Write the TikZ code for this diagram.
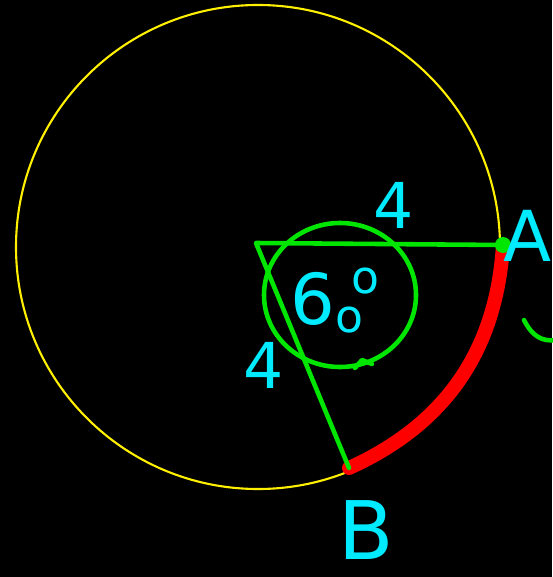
\documentclass[tikz,border=0pt]{standalone}
\usepackage{fontspec}
\setmainfont{DejaVu Sans}
\usepackage{xcolor}
\usepackage{tikz}
\usetikzlibrary{arrows.meta}

\definecolor{sunyellow}{RGB}{255,240,0}
\definecolor{markgreen}{RGB}{0,230,0}
\definecolor{textcyan}{RGB}{0,235,255}

\begin{document}
\begin{tikzpicture}
	[
	x=0.02cm, y=-0.02cm,
	rim/.style={
		draw=sunyellow,
		line width=1.2pt
	},
	greenline/.style={
		draw=markgreen,
		line width=2.6pt,
		line cap=round,
		line join=round
	},
	redarc/.style={
		draw=red,
		line width=8pt,
		line cap=round
	},
	lbl/.style={
		text=textcyan,
		inner sep=0pt,
		font=\fontsize{36}{36}\selectfont
	}
	]
	
	% Background
	\fill[black] (0,0) rectangle (552,577);
	\useasboundingbox (0,0) rectangle (552,577);
	
	% Points
	\coordinate (O) at (256,243);
	\coordinate (A) at (503,245);
	\coordinate (B) at (349,468);
	
	% Big circle
	\draw[rim] (258,247) circle[radius=242];
	
	% Red arc AB
	\draw[redarc] (A) to[bend left=31] (B);
	
	% Radii
	\draw[greenline] (B) -- (O) -- (A);
	\fill[markgreen] (A) circle[radius=8];
	
	% Angle mark
	\draw[greenline] (340,295) ellipse[x radius=76, y radius=72];
	\draw[greenline] (355,368) -- (362,360) -- (372,364);
	\draw[greenline] (524,320) .. controls (532,336) and (542,342) .. (556,340);
	
	% Labels
	\node[lbl] (lenOA) at (394,205) {4};
	\node[lbl] (lenOB) at (264,365) {4};
	\node[lbl, font=\fontsize{40}{40}\selectfont] (angle) at (313,299) {6};
	\node[lbl, font=\fontsize{26}{26}\selectfont] (angle0) at (349,320) {o};
	\node[lbl, font=\fontsize{26}{26}\selectfont] (angledeg) at (365,281) {o};
	\node[lbl, font=\fontsize{40}{40}\selectfont] (ptA) at (528,236) {A};
	\node[lbl, font=\fontsize{46}{46}\selectfont] (ptB) at (366,530) {B};
	
\end{tikzpicture}
\end{document}
